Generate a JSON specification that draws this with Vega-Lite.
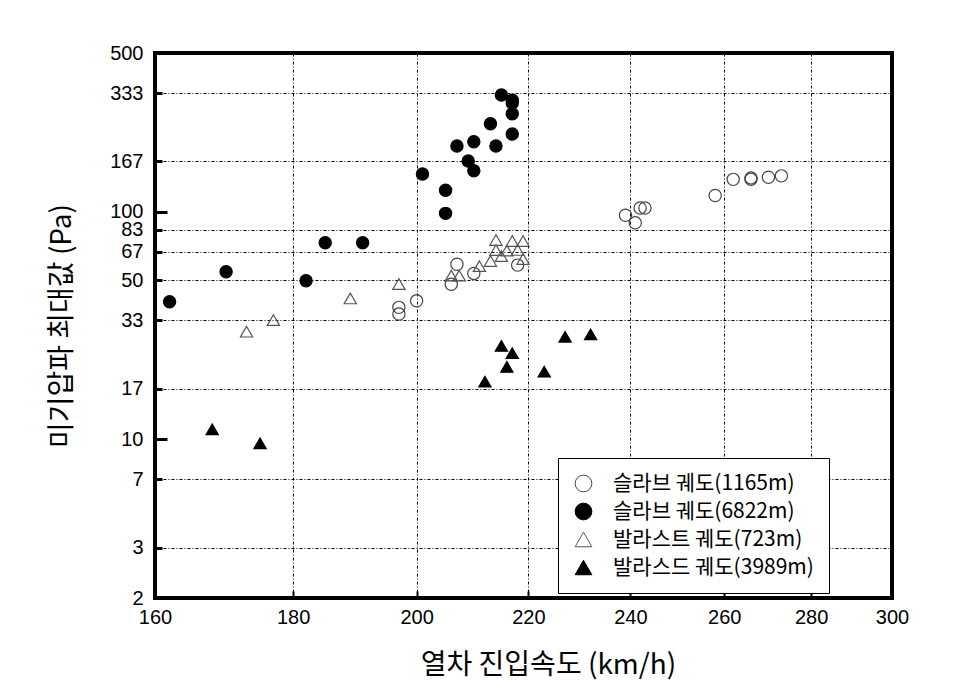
{
  "$schema": "https://vega.github.io/schema/vega-lite/v6.json",
  "width": 737,
  "height": 545,
  "autosize": {"type": "none"},
  "padding": {"left": 155, "top": 53, "right": 76, "bottom": 88},
  "background": "white",
  "config": {
    "view": {"stroke": "black", "strokeWidth": 4},
    "font": "Liberation Sans",
    "legend": {
      "padding": 15,
      "strokeColor": "black",
      "fillColor": "white",
      "labelFont": "Noto Sans CJK KR",
      "labelFontSize": 21,
      "labelColor": "black",
      "labelLimit": 500,
      "symbolSize": 280,
      "symbolStrokeWidth": 1,
      "rowPadding": 6,
      "labelOffset": 19
    }
  },
  "data": {
    "values": [
      {"s": "슬라브 궤도(1165m)", "v": 197, "p": 38.0},
      {"s": "슬라브 궤도(1165m)", "v": 197, "p": 35.5},
      {"s": "슬라브 궤도(1165m)", "v": 200, "p": 40.6},
      {"s": "슬라브 궤도(1165m)", "v": 207, "p": 58.8},
      {"s": "슬라브 궤도(1165m)", "v": 206, "p": 48.0},
      {"s": "슬라브 궤도(1165m)", "v": 210, "p": 53.6},
      {"s": "슬라브 궤도(1165m)", "v": 218, "p": 58.3},
      {"s": "슬라브 궤도(1165m)", "v": 239, "p": 96.6},
      {"s": "슬라브 궤도(1165m)", "v": 241, "p": 89.5},
      {"s": "슬라브 궤도(1165m)", "v": 242, "p": 104},
      {"s": "슬라브 궤도(1165m)", "v": 243, "p": 104},
      {"s": "슬라브 궤도(1165m)", "v": 258, "p": 118},
      {"s": "슬라브 궤도(1165m)", "v": 262, "p": 139},
      {"s": "슬라브 궤도(1165m)", "v": 266, "p": 141},
      {"s": "슬라브 궤도(1165m)", "v": 266, "p": 139},
      {"s": "슬라브 궤도(1165m)", "v": 270, "p": 142},
      {"s": "슬라브 궤도(1165m)", "v": 273, "p": 144},
      {"s": "슬라브 궤도(6822m)", "v": 162, "p": 40.2},
      {"s": "슬라브 궤도(6822m)", "v": 170, "p": 54.5},
      {"s": "슬라브 궤도(6822m)", "v": 182, "p": 49.8},
      {"s": "슬라브 궤도(6822m)", "v": 185, "p": 73.1},
      {"s": "슬라브 궤도(6822m)", "v": 191, "p": 73.1},
      {"s": "슬라브 궤도(6822m)", "v": 201, "p": 146.7},
      {"s": "슬라브 궤도(6822m)", "v": 205, "p": 124.4},
      {"s": "슬라브 궤도(6822m)", "v": 205, "p": 98.5},
      {"s": "슬라브 궤도(6822m)", "v": 207, "p": 194.8},
      {"s": "슬라브 궤도(6822m)", "v": 209, "p": 167.4},
      {"s": "슬라브 궤도(6822m)", "v": 210, "p": 203.5},
      {"s": "슬라브 궤도(6822m)", "v": 210, "p": 151.7},
      {"s": "슬라브 궤도(6822m)", "v": 213, "p": 244},
      {"s": "슬라브 궤도(6822m)", "v": 214, "p": 194.8},
      {"s": "슬라브 궤도(6822m)", "v": 215, "p": 326.6},
      {"s": "슬라브 궤도(6822m)", "v": 217, "p": 310},
      {"s": "슬라브 궤도(6822m)", "v": 217, "p": 301},
      {"s": "슬라브 궤도(6822m)", "v": 217, "p": 270},
      {"s": "슬라브 궤도(6822m)", "v": 217, "p": 220},
      {"s": "발라스트 궤도(723m)", "v": 173, "p": 29.7},
      {"s": "발라스트 궤도(723m)", "v": 177, "p": 33.4},
      {"s": "발라스트 궤도(723m)", "v": 189, "p": 41.6},
      {"s": "발라스트 궤도(723m)", "v": 197, "p": 48.1},
      {"s": "발라스트 궤도(723m)", "v": 206, "p": 52.4},
      {"s": "발라스트 궤도(723m)", "v": 207.4, "p": 52.4},
      {"s": "발라스트 궤도(723m)", "v": 211, "p": 57.7},
      {"s": "발라스트 궤도(723m)", "v": 213, "p": 60.8},
      {"s": "발라스트 궤도(723m)", "v": 214, "p": 75.2},
      {"s": "발라스트 궤도(723m)", "v": 214, "p": 67.9},
      {"s": "발라스트 궤도(723m)", "v": 215, "p": 63.9},
      {"s": "발라스트 궤도(723m)", "v": 217, "p": 74.4},
      {"s": "발라스트 궤도(723m)", "v": 216, "p": 67.5},
      {"s": "발라스트 궤도(723m)", "v": 218, "p": 68},
      {"s": "발라스트 궤도(723m)", "v": 219, "p": 74.4},
      {"s": "발라스트 궤도(723m)", "v": 219, "p": 62.0},
      {"s": "발라스드 궤도(3989m)", "v": 168, "p": 11.05},
      {"s": "발라스드 궤도(3989m)", "v": 175, "p": 9.59},
      {"s": "발라스드 궤도(3989m)", "v": 212, "p": 17.9},
      {"s": "발라스드 궤도(3989m)", "v": 215, "p": 25.7},
      {"s": "발라스드 궤도(3989m)", "v": 217, "p": 23.9},
      {"s": "발라스드 궤도(3989m)", "v": 216, "p": 20.8},
      {"s": "발라스드 궤도(3989m)", "v": 223, "p": 19.8},
      {"s": "발라스드 궤도(3989m)", "v": 227, "p": 28.2},
      {"s": "발라스드 궤도(3989m)", "v": 232, "p": 28.9}
    ]
  },
  "mark": {"type": "point", "filled": true, "size": 150, "strokeWidth": 1.2, "opacity": 1},
  "encoding": {
    "x": {
      "field": "v",
      "type": "quantitative",
      "scale": {"type": "log", "domain": [160, 300], "nice": false},
      "axis": {
        "title": "열차 진입속도 (km/h)",
        "values": [160, 180, 200, 220, 240, 260, 280, 300],
        "format": "d",
        "domain": false,
        "offset": -7,
        "grid": true,
        "gridColor": "black",
        "gridDash": [3, 2, 1, 2],
        "gridWidth": 1,
        "gridOpacity": {"condition": {"test": "datum.value <= 161 || datum.value >= 299", "value": 0}, "value": 1},
        "ticks": true,
        "tickSize": 7,
        "tickWidth": 2,
        "tickColor": "black",
        "labelFontSize": 20,
        "labelColor": "black",
        "labelPadding": 9,
        "labelFlush": false,
        "labelOverlap": false,
        "titleFont": "Noto Sans CJK KR",
        "titleFontSize": 28,
        "titleFontWeight": "normal",
        "titleColor": "black",
        "titlePadding": 24,
        "titleX": 393
      }
    },
    "y": {
      "field": "p",
      "type": "quantitative",
      "scale": {"type": "log", "domain": [2, 500], "nice": false},
      "axis": {
        "title": "미기압파 최대값 (Pa)",
        "values": [2, 3.33333, 6.66667, 10, 16.6667, 33.3333, 50, 66.6667, 83.3333, 100, 166.667, 333.333, 500],
        "labelExpr": "format(datum.value, '.0f')",
        "domain": false,
        "offset": -12,
        "grid": true,
        "gridColor": "black",
        "gridDash": [3, 2, 1, 2],
        "gridWidth": 1,
        "gridOpacity": {"condition": {"test": "datum.value <= 2.01 || datum.value >= 499 || datum.value == 10 || datum.value == 100", "value": 0}, "value": 1},
        "ticks": true,
        "tickSize": 12,
        "tickDash": {"condition": {"test": "datum.value == 10 || datum.value == 100", "value": [20, 0]}, "value": [0, 5, 7, 100]},
        "tickWidth": 3,
        "tickColor": "black",
        "labelFontSize": 20,
        "labelColor": "black",
        "labelPadding": 12,
        "labelFlush": false,
        "labelOverlap": false,
        "titleFont": "Noto Sans CJK KR",
        "titleFontSize": 28,
        "titleFontWeight": "normal",
        "titleColor": "black",
        "titlePadding": 33
      }
    },
    "shape": {
      "field": "s",
      "type": "nominal",
      "scale": {
        "domain": ["슬라브 궤도(1165m)", "슬라브 궤도(6822m)", "발라스트 궤도(723m)", "발라스드 궤도(3989m)"],
        "range": ["circle", "circle", "triangle-up", "triangle-up"]
      },
      "legend": {"orient": "none", "legendX": 403, "legendY": 405, "title": null}
    },
    "fill": {
      "field": "s",
      "type": "nominal",
      "scale": {
        "domain": ["슬라브 궤도(1165m)", "슬라브 궤도(6822m)", "발라스트 궤도(723m)", "발라스드 궤도(3989m)"],
        "range": ["transparent", "black", "transparent", "black"]
      },
      "legend": {"orient": "none", "legendX": 403, "legendY": 405, "title": null}
    },
    "stroke": {
      "field": "s",
      "type": "nominal",
      "scale": {
        "domain": ["슬라브 궤도(1165m)", "슬라브 궤도(6822m)", "발라스트 궤도(723m)", "발라스드 궤도(3989m)"],
        "range": ["#444444", "black", "#555555", "black"]
      },
      "legend": {"orient": "none", "legendX": 403, "legendY": 405, "title": null}
    }
  }
}
